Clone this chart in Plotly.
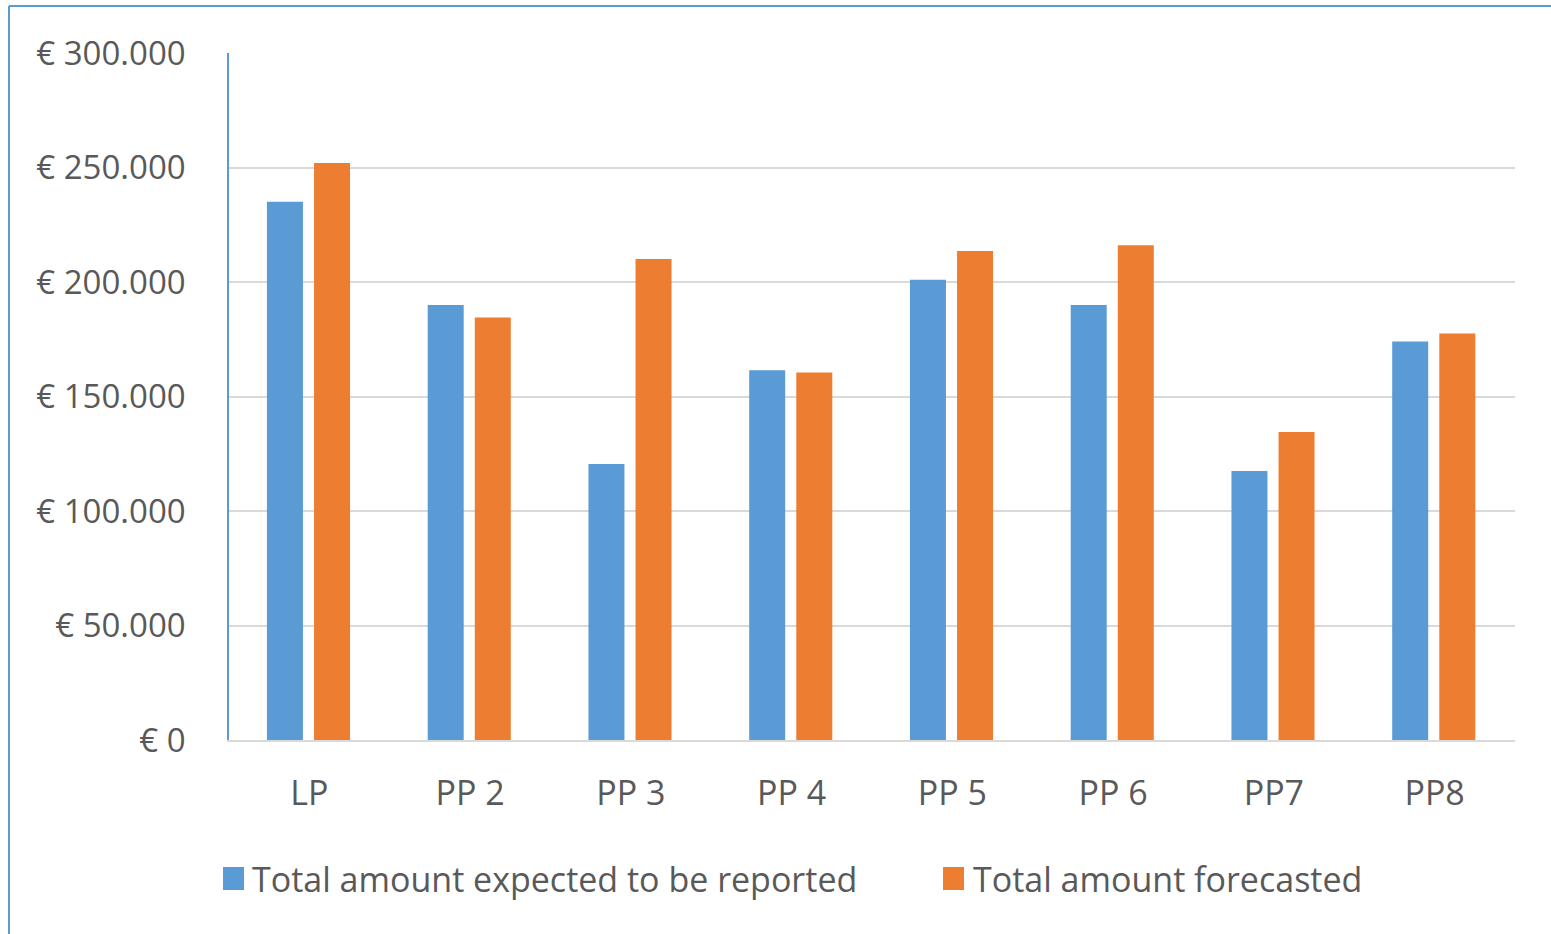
import plotly.graph_objects as go

categories = ["LP", "PP 2", "PP 3", "PP 4", "PP 5", "PP 6", "PP7", "PP8"]
expected = [235000, 190000, 120500, 161500, 201000, 190000, 117500, 174000]
forecasted = [252000, 184500, 210000, 160500, 213500, 216000, 134500, 177500]
series_names = ["Total amount expected to be reported", "Total amount forecasted"]
tick_vals = [0, 50000, 100000, 150000, 200000, 250000, 300000]
tick_text = ["€ 0", "€ 50.000", "€ 100.000", "€ 150.000", "€ 200.000", "€ 250.000", "€ 300.000"]

BLUE = "#5B9BD5"
ORANGE = "#ED7D31"
TEXT = "#595959"
GRID = "#D9D9D9"
FONT = "Open Sans"
FS = 34

W, H = 1551, 934
L, R, T, B = 229, 36, 53, 194
PW = W - L - R
PH = H - T - B

fig = go.Figure()
fig.add_trace(go.Bar(x=categories, y=expected, name=series_names[0],
                     marker=dict(color=BLUE, line=dict(width=0)),
                     width=0.224, offset=-0.264, showlegend=False))
fig.add_trace(go.Bar(x=categories, y=forecasted, name=series_names[1],
                     marker=dict(color=ORANGE, line=dict(width=0)),
                     width=0.224, offset=0.029, showlegend=False))

def px_x(p):
    return (p - L) / PW

def px_y(p):
    return 1 - (p - T) / PH

shapes = [
    # outer frame (left and top)
    dict(type="line", xref="paper", yref="paper", x0=px_x(9), x1=px_x(9), y0=px_y(6), y1=px_y(940),
         line=dict(color=BLUE, width=2)),
    dict(type="line", xref="paper", yref="paper", x0=px_x(9), x1=px_x(1560), y0=px_y(6), y1=px_y(6),
         line=dict(color=BLUE, width=2)),
    # legend squares
    dict(type="rect", xref="paper", yref="paper", x0=px_x(223), x1=px_x(244), y0=px_y(890), y1=px_y(867),
         fillcolor=BLUE, line=dict(width=0)),
    dict(type="rect", xref="paper", yref="paper", x0=px_x(943), x1=px_x(964), y0=px_y(890), y1=px_y(867),
         fillcolor=ORANGE, line=dict(width=0)),
]

annotations = [
    dict(xref="paper", yref="paper", x=px_x(250), y=px_y(879), text=series_names[0], showarrow=False,
         xanchor="left", yanchor="middle", font=dict(family=FONT, size=FS, color=TEXT)),
    dict(xref="paper", yref="paper", x=px_x(971), y=px_y(879), text=series_names[1], showarrow=False,
         xanchor="left", yanchor="middle", font=dict(family=FONT, size=FS, color=TEXT)),
]

fig.update_layout(
    width=W, height=H,
    margin=dict(l=L, r=R, t=T, b=B, autoexpand=False),
    paper_bgcolor="white", plot_bgcolor="white",
    barmode="overlay",
    showlegend=False,
    font=dict(family=FONT, size=FS, color=TEXT),
    shapes=shapes,
    annotations=annotations,
    xaxis=dict(showgrid=False, showline=True, linecolor=GRID, linewidth=1.5,
               ticks="", tickfont=dict(family=FONT, size=FS, color=TEXT),
               ticklabelstandoff=22),
    yaxis=dict(range=[0, 300000], tickvals=tick_vals, ticktext=tick_text,
               showgrid=True, gridcolor=GRID, gridwidth=1.5,
               showline=True, linecolor=BLUE, linewidth=1.5, zeroline=False,
               ticks="", tickfont=dict(family=FONT, size=33, color=TEXT),
               ticklabelstandoff=35),
)

fig.write_html("out.html", config={"displayModeBar": False},
               post_script="document.body.style.margin='0';")
